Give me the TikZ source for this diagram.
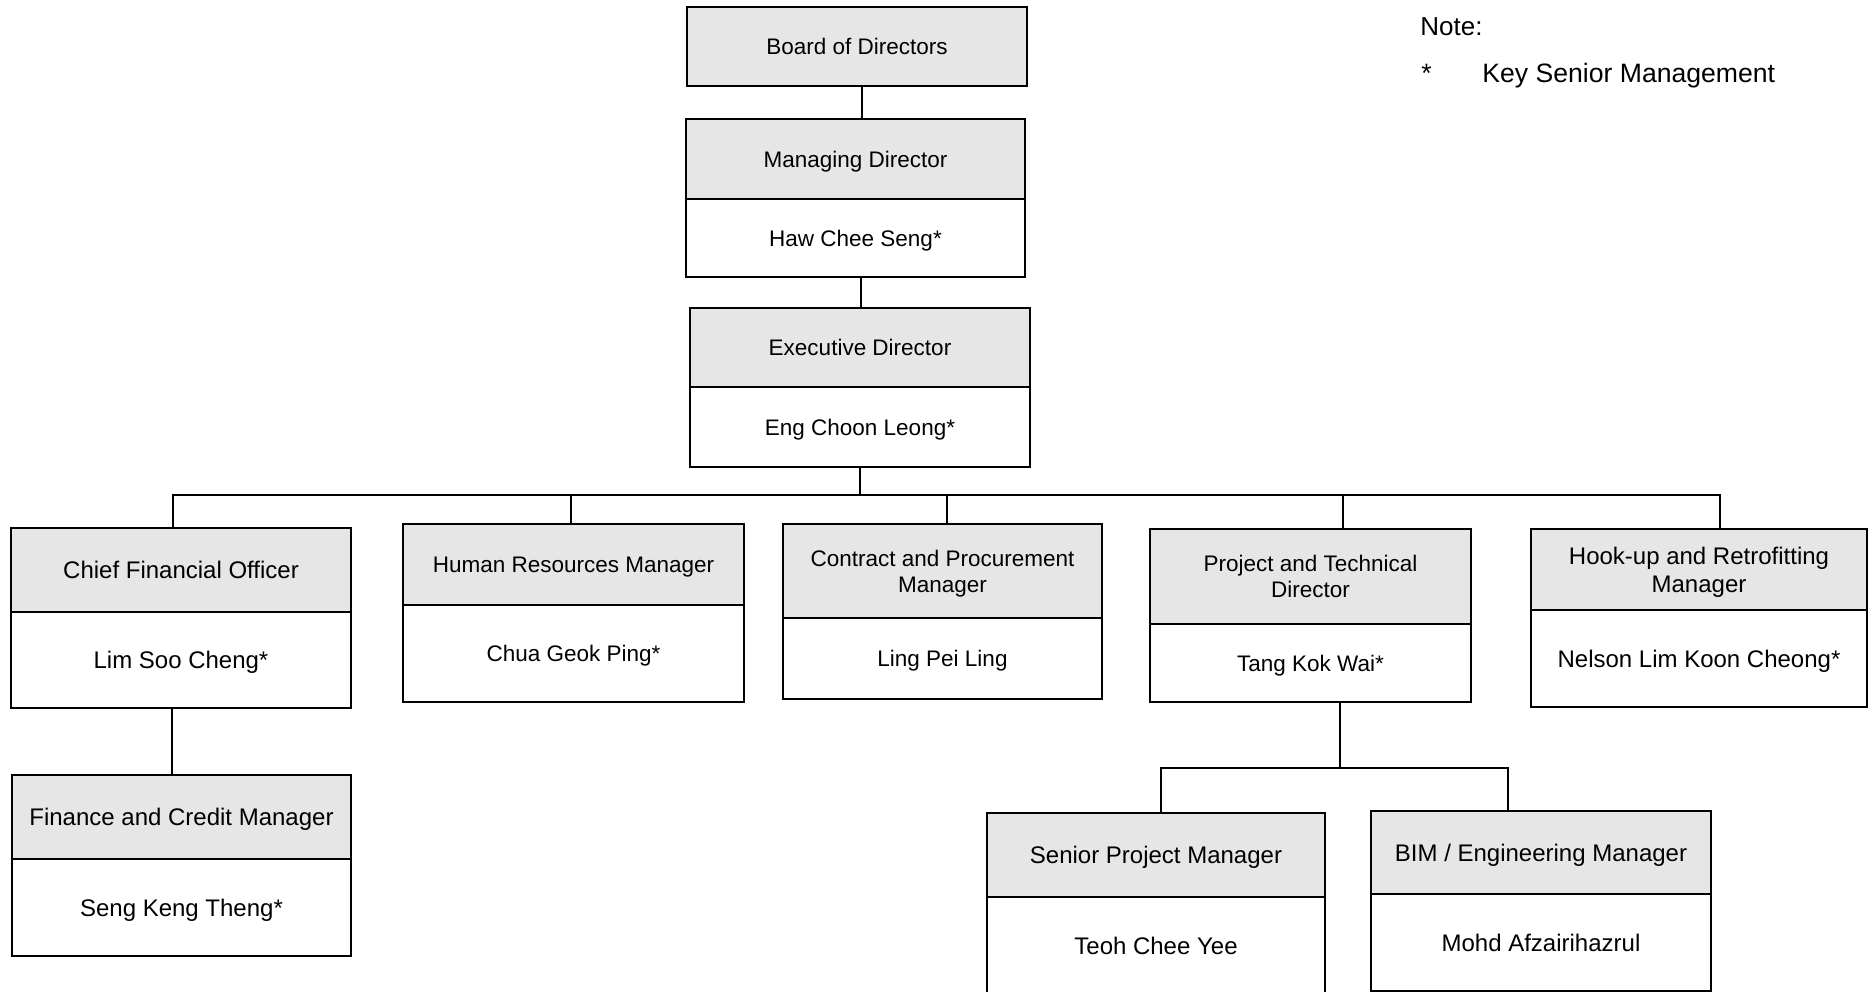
\documentclass[tikz,border=0pt]{standalone}
\usepackage{fontspec}
\setmainfont{Liberation Sans}
\usetikzlibrary{positioning}
\definecolor{headgrey}{RGB}{230,230,230}
\tikzset{
  post/.style={draw=black, line width=1pt, rectangle, inner sep=0pt, outer sep=0pt, align=center, text=black, text depth=0pt},
  head/.style={post, fill=headgrey},
  body/.style={post, fill=white},
  sizeA/.style={font=\fontsize{11.25}{13}\selectfont},
  sizeB/.style={font=\fontsize{12}{14}\selectfont},
  link/.style={draw=black, line width=1pt},
}
\begin{document}
\begin{tikzpicture}[x=0.5pt, y=-0.5pt]
	\useasboundingbox (0,0) rectangle (1869,991);
	\clip (0,0) rectangle (1869,991);
	% board and directors
	\node[head, sizeA, minimum width=170pt, minimum height=39.5pt] (board) at (857,46.5) {Board of Directors};
	\node[head, sizeA, minimum width=169.5pt, minimum height=40pt] (mdT) at (855.5,159) {Managing Director};
	\node[body, sizeA, minimum width=169.5pt, minimum height=39pt, below=0pt of mdT] (mdB) {Haw Chee Seng*};
	\node[head, sizeA, minimum width=170pt, minimum height=39.5pt] (edT) at (860,347.5) {Executive Director};
	\node[body, sizeA, minimum width=170pt, minimum height=40pt, below=0pt of edT] (edB) {Eng Choon Leong*};
	% managers
	\node[head, sizeB, minimum width=170pt, minimum height=42pt] (cfoT) at (181,570) {Chief Financial Officer};
	\node[body, sizeB, minimum width=170pt, minimum height=48pt, below=0pt of cfoT] (cfoB) {Lim Soo Cheng*};
	\node[head, sizeA, minimum width=170.5pt, minimum height=40.5pt] (hrmT) at (573.5,564.5) {Human Resources Manager};
	\node[body, sizeA, minimum width=170.5pt, minimum height=48.5pt, below=0pt of hrmT] (hrmB) {Chua Geok Ping*};
	\node[head, sizeA, minimum width=159.5pt, minimum height=47pt] (cpmT) at (942.5,571) {Contract and Procurement\\Manager};
	\node[body, sizeA, minimum width=159.5pt, minimum height=40.5pt, below=0pt of cpmT] (cpmB) {Ling Pei Ling};
	\node[head, sizeA, minimum width=160.5pt, minimum height=47.5pt] (ptdT) at (1310.5,576.5) {Project and Technical\\Director};
	\node[body, sizeA, minimum width=160.5pt, minimum height=39pt, below=0pt of ptdT] (ptdB) {Tang Kok Wai*};
	\node[head, sizeB, minimum width=168pt, minimum height=40.5pt] (humT) at (1699,569.5) {Hook-up and Retrofitting\\Manager};
	\node[body, sizeB, minimum width=168pt, minimum height=48.5pt, below=0pt of humT] (humB) {Nelson Lim Koon Cheong*};
	% lower level
	\node[head, sizeB, minimum width=169.5pt, minimum height=42pt] (fcmT) at (181.5,817) {Finance and Credit Manager};
	\node[body, sizeB, minimum width=169.5pt, minimum height=48.5pt, below=0pt of fcmT] (fcmB) {Seng Keng Theng*};
	\node[head, sizeB, minimum width=169pt, minimum height=42pt] (spmT) at (1156,855) {Senior Project Manager};
	\node[body, sizeB, minimum width=169pt, minimum height=48.5pt, below=0pt of spmT] (spmB) {Teoh Chee Yee};
	\node[head, sizeB, minimum width=170pt, minimum height=41.5pt] (bimT) at (1541,852.5) {BIM / Engineering Manager};
	\node[body, sizeB, minimum width=170pt, minimum height=48.5pt, below=0pt of bimT] (bimB) {Mohd Afzairihazrul};
	% note
	\node[anchor=base west, inner sep=0pt, font=\fontsize{13}{15}\selectfont] (note) at (1420,35) {Note:};
	\node[anchor=base west, inner sep=0pt, font=\fontsize{13.3}{15}\selectfont] (star) at (1421,82) {*};
	\node[anchor=base west, inner sep=0pt, font=\fontsize{13.3}{15}\selectfont] (keysm) at (1482,82) {Key Senior Management};
	% connectors
	\coordinate (bus) at (859,495);
	\coordinate (sub) at (1340,768);
	\draw[link] ([xshift=2.5pt]board.south) -- ([xshift=2.5pt]board.south |- mdT.north);
	\draw[link] ([xshift=2.5pt]mdB.south) -- ([xshift=2.5pt]mdB.south |- edT.north);
	\draw[link] (edB.south |- bus) -- (edB.south);
	\draw[link] ([xshift=-4pt]cfoT.north) |- (bus) -| ([xshift=10.5pt]humT.north);
	\draw[link] ([xshift=-1.25pt]hrmT.north) -- ([xshift=-1.25pt]hrmT.north |- bus);
	\draw[link] ([xshift=2.25pt]cpmT.north) -- ([xshift=2.25pt]cpmT.north |- bus);
	\draw[link] ([xshift=16.25pt]ptdT.north) -- ([xshift=16.25pt]ptdT.north |- bus);
	\draw[link] ([xshift=-4.5pt]cfoB.south) -- ([xshift=-4.5pt]cfoB.south |- fcmT.north);
	\draw[link] ([xshift=14.75pt]ptdB.south) -- ([xshift=14.75pt]ptdB.south |- sub);
	\draw[link] ([xshift=2.5pt]spmT.north) |- (sub) -| ([xshift=-16.75pt]bimT.north);
\end{tikzpicture}
\end{document}
